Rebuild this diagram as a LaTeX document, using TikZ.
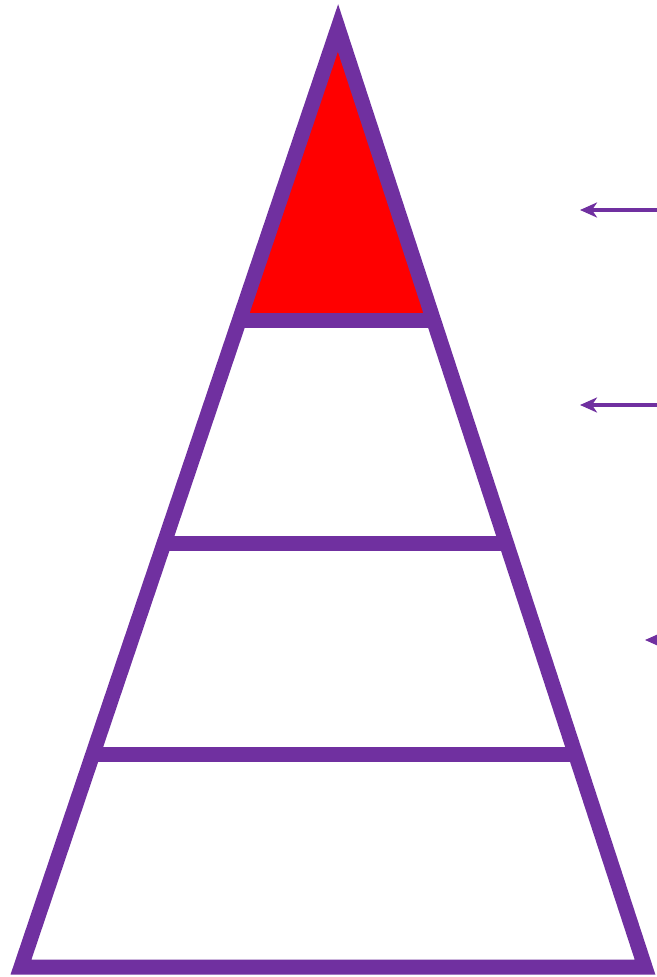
\documentclass[tikz,border=0pt]{standalone}
\usepackage{tikz}
\usetikzlibrary{arrows.meta, calc}
\definecolor{pyrpurple}{RGB}{112,48,160}
\definecolor{pyrred}{RGB}{255,0,0}
\tikzstyle{edge} = [draw=pyrpurple, line width=15, line join=miter]
\tikzstyle{pointer} = [draw=pyrpurple, line width=3.5, -{Stealth[length=17, width=15, inset=5]}]

\begin{document}
\begin{tikzpicture}[x=1pt, y=-1pt]
    \useasboundingbox (0,0) rectangle (656,977);
    \coordinate (apex) at (338,28);
    \coordinate (bl) at (21,967);
    \coordinate (br) at (645,967);
    % band levels
    \coordinate (l1) at ($(apex)!0.311!(bl)$);
    \coordinate (r1) at ($(apex)!0.311!(br)$);
    \coordinate (l2) at ($(apex)!0.549!(bl)$);
    \coordinate (r2) at ($(apex)!0.549!(br)$);
    \coordinate (l3) at ($(apex)!0.774!(bl)$);
    \coordinate (r3) at ($(apex)!0.774!(br)$);

    \fill [pyrred] (apex) -- (l1) -- (r1) -- cycle;
    \draw [edge] (apex) -- (bl) -- (br) -- cycle;
    \draw [edge] (l1) -- (r1);
    \draw [edge] (l2) -- (r2);
    \draw [edge] (l3) -- (r3);

    % arrows coming in from the right
    \coordinate (s1) at (660,210);
    \coordinate (t1) at (580,210);
    \coordinate (s2) at (660,405);
    \coordinate (t2) at (580,405);
    \coordinate (s3) at (700,640);
    \coordinate (t3) at (645,640);
    \draw [pointer] (s1) -- (t1);
    \draw [pointer] (s2) -- (t2);
    \draw [pointer] (s3) -- (t3);
\end{tikzpicture}
\end{document}
